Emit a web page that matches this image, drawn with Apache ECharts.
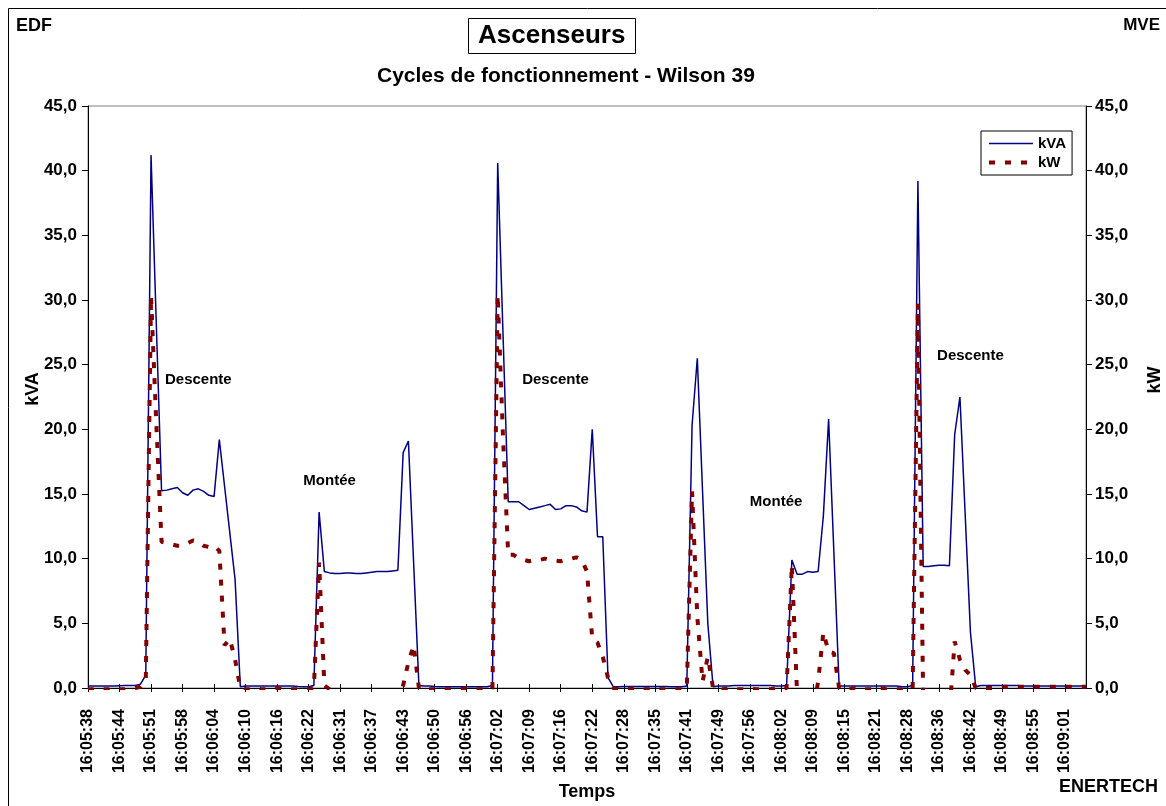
<!DOCTYPE html>
<html>
<head>
<meta charset="utf-8">
<script src="https://cdn.jsdelivr.net/npm/echarts@6.0.0/dist/echarts.min.js"></script>
<style>
  html, body { margin: 0; padding: 0; background: #fff; overflow: hidden; }
  #chart { width: 1166px; height: 806px; }
</style>
</head>
<body>
<div id="chart"></div>
<script>
// Time stamps shown under every 6th sample
const tickLabels = [
  '16:05:38', '16:05:44', '16:05:51', '16:05:58', '16:06:04', '16:06:10', '16:06:16', '16:06:22',
  '16:06:31', '16:06:37', '16:06:43', '16:06:50', '16:06:56', '16:07:02', '16:07:09', '16:07:16',
  '16:07:22', '16:07:28', '16:07:35', '16:07:41', '16:07:49', '16:07:56', '16:08:02', '16:08:09',
  '16:08:15', '16:08:21', '16:08:28', '16:08:36', '16:08:42', '16:08:49', '16:08:55', '16:09:01'
];

// Apparent power (kVA), one value per sample
const kva = [
  0.15, 0.15, 0.15, 0.15, 0.15, 0.15, 0.18, 0.2, 0.2, 0.2,
  0.3, 1.0, 41.2, 28.2, 15.25, 15.3, 15.4, 15.5, 15.1, 14.9,
  15.3, 15.4, 15.2, 14.9, 14.8, 19.2, 15.6, 12.0, 8.4, 0.1,
  0.15, 0.15, 0.15, 0.15, 0.15, 0.15, 0.15, 0.15, 0.15, 0.15,
  0.12, 0.1, 0.1, 0.2, 13.6, 9.0, 8.9, 8.85, 8.85, 8.9,
  8.9, 8.85, 8.85, 8.9, 8.95, 9.0, 9.0, 9.0, 9.05, 9.1,
  18.2, 19.1, 9.6, 0.2, 0.15, 0.15, 0.12, 0.1, 0.1, 0.1,
  0.1, 0.1, 0.1, 0.1, 0.1, 0.1, 0.1, 0.2, 40.6, 27.5,
  14.4, 14.4, 14.4, 14.1, 13.8, 13.9, 14.0, 14.1, 14.2, 13.8,
  13.85, 14.1, 14.1, 14.0, 13.7, 13.6, 20.0, 11.7, 11.7, 0.8,
  0.1, 0.1, 0.12, 0.12, 0.12, 0.12, 0.12, 0.12, 0.12, 0.12,
  0.12, 0.1, 0.1, 0.1, 0.15, 20.3, 25.5, 15.2, 5.0, 0.1,
  0.15, 0.15, 0.15, 0.2, 0.2, 0.2, 0.2, 0.2, 0.2, 0.2,
  0.2, 0.15, 0.15, 0.2, 9.9, 8.8, 8.8, 9.0, 8.95, 9.0,
  13.3, 20.8, 10.5, 0.15, 0.15, 0.15, 0.15, 0.15, 0.15, 0.15,
  0.15, 0.15, 0.15, 0.15, 0.15, 0.1, 0.1, 0.2, 39.2, 9.4,
  9.4, 9.45, 9.5, 9.5, 9.45, 19.6, 22.5, 13.4, 4.3, 0.1,
  0.2, 0.2, 0.2, 0.2, 0.2, 0.2, 0.2, 0.2, 0.15, 0.15,
  0.15, 0.15, 0.15, 0.15, 0.15, 0.15, 0.15, 0.15, 0.15, 0.15, 0.15
];

// Active power (kW), one value per sample
const kw = [
  -0.1, -0.1, 0.0, -0.1, -0.1, 0.0, -0.1, -0.1, 0.0, 0.0,
  0.1, 0.6, 30.3, 20.5, 11.3, 11.2, 11.1, 11.0, 11.0, 11.2,
  11.4, 11.3, 11.0, 10.9, 11.0, 10.6, 3.3, 3.8, 2.2, 0.0,
  -0.1, -0.1, 0.0, -0.1, -0.1, -0.1, 0.0, -0.1, -0.1, -0.1,
  -0.1, -0.1, -0.1, 0.0, 9.7, 0.2, -0.1, -0.4, -2.5, -2.5,
  -2.5, -2.5, -2.5, -2.5, -2.5, -2.5, -2.5, -2.5, -2.5, -1.2,
  0.2, 2.0, 3.3, 0.0, -0.1, -0.1, -0.1, 0.0, -0.1, -0.1,
  -0.1, -0.1, 0.0, -0.1, -0.1, -0.1, -0.1, 0.0, 30.4, 19.5,
  10.3, 10.3, 10.0, 9.9, 9.8, 9.9, 9.9, 10.0, 9.9, 9.85,
  9.8, 9.9, 10.0, 10.1, 9.9, 9.0, 3.8, 3.5, 2.4, 0.8,
  0.0, -0.1, -0.1, -0.1, 0.0, -0.1, -0.1, -0.1, 0.0, -0.1,
  -0.1, -0.1, -0.1, -0.1, 0.0, 15.2, 5.5, 0.5, 2.4, 0.0,
  -0.1, -0.1, 0.0, -0.1, -0.1, -0.1, 0.0, -0.1, -0.1, -0.1,
  -0.1, 0.0, -0.1, 0.0, 9.5, -0.5, -2.5, -2.5, -2.0, 0.5,
  4.3, 2.8, 2.7, 0.0, -0.1, -0.1, 0.0, -0.1, -0.1, -0.1,
  -0.1, 0.0, -0.1, -0.1, -0.1, -0.1, 0.0, 0.0, 29.7, -0.8,
  -2.5, -2.5, -2.5, -2.5, -2.0, 3.6, 2.2, 1.4, 1.0, 0.0,
  0.0, 0.0, 0.0, 0.0, 0.1, 0.1, 0.1, 0.1, 0.1, 0.1,
  0.1, 0.1, 0.1, 0.1, 0.1, 0.1, 0.1, 0.1, 0.1, 0.1, 0.1
];

// Phase names written inside the plot: text, sample index, kVA level
const phaseNames = ['Descente', 'Montée', 'Descente', 'Montée', 'Descente'];
const phaseAt = [21, 46, 89, 131, 168];
const phaseLevel = [23.8, 16.0, 23.8, 14.4, 25.7];

const samples = kva.map((_, i) => i);
const FONT = '"Liberation Sans", Arial, sans-serif';
const STEP = 6;
const fmtComma = v => v.toFixed(1).replace('.', ',');

const boldText = size => ({ fontFamily: FONT, fontWeight: 'bold', fontSize: size, color: '#000' });

const chart = echarts.init(document.getElementById('chart'), null, { renderer: 'canvas' });

chart.setOption({
  animation: false,
  backgroundColor: '#fff',
  title: [
    {
      text: 'Ascenseurs',
      left: 468, top: 18,
      padding: [5, 10, 5, 10],
      borderWidth: 1, borderColor: '#000',
      textStyle: boldText(26)
    },
    {
      text: 'Cycles de fonctionnement - Wilson 39',
      left: 377, top: 66,
      padding: 0,
      textStyle: boldText(21)
    }
  ],
  graphic: [
    { type: 'rect', silent: true, z: -10,
      shape: { x: 8.5, y: 8.5, width: 1180, height: 830 },
      style: { fill: 'none', stroke: '#000', lineWidth: 1 } },
    { type: 'text', left: 16, top: 17, style: { text: 'EDF', font: 'bold 18px ' + FONT, fill: '#000' } },
    { type: 'text', right: 6, top: 17, style: { text: 'MVE', font: 'bold 17px ' + FONT, fill: '#000' } },
    { type: 'text', right: 8, top: 778, style: { text: 'ENERTECH', font: 'bold 18px ' + FONT, fill: '#000' } },
    // vertical axis titles
    { type: 'text', x: 33, y: 389, rotation: Math.PI / 2,
      style: { text: 'kVA', font: 'bold 18px ' + FONT, fill: '#000', align: 'center', verticalAlign: 'middle' } },
    { type: 'text', x: 1155, y: 380, rotation: Math.PI / 2,
      style: { text: 'kW', font: 'bold 18px ' + FONT, fill: '#000', align: 'center', verticalAlign: 'middle' } }
  ],
  legend: {
    orient: 'vertical',
    left: 981, top: 131,
    padding: [5, 6, 5, 6],
    itemGap: 4,
    itemWidth: 44, itemHeight: 12,
    borderColor: '#000', borderWidth: 1,
    backgroundColor: '#fff',
    textStyle: boldText(15),
    data: [
      { name: 'kVA', itemStyle: { color: 'rgba(0,0,0,0)', borderWidth: 0 }, lineStyle: { width: 1.5 } },
      { name: 'kW', itemStyle: { color: 'rgba(0,0,0,0)', borderWidth: 0 }, lineStyle: { width: 4, type: [6, 10] } }
    ]
  },
  grid: {
    left: 88, right: 80, top: 106, bottom: 118,
    outerBoundsMode: 'none',
    containLabel: false,
    show: true, borderColor: '#808080', borderWidth: 1, backgroundColor: 'transparent'
  },
  xAxis: [
    {
      type: 'category',
      data: samples,
      boundaryGap: false,
      name: 'Temps',
      nameLocation: 'middle',
      nameGap: 95,
      nameTextStyle: boldText(18),
      axisLine: { lineStyle: { color: '#000', width: 1 } },
      axisTick: { interval: STEP - 1, length: 4, lineStyle: { color: '#000' } },
      axisLabel: {
        interval: STEP - 1,
        rotate: 90,
        margin: 21,
        formatter: (v, i) => (i % STEP === 0 ? tickLabels[i / STEP] : ''),
        ...boldText(16)
      },
      splitLine: { show: false }
    },
    {
      type: 'category',
      data: samples,
      boundaryGap: false,
      position: 'bottom',
      axisLine: { show: false },
      axisTick: { inside: true, interval: STEP - 1, length: 4, lineStyle: { color: '#000' } },
      axisLabel: { show: false },
      splitLine: { show: false }
    }
  ],
  yAxis: [
    {
      type: 'value', min: 0, max: 45, interval: 5, position: 'left',
      axisLine: { show: true, lineStyle: { color: '#000', width: 1 } },
      axisTick: { show: true, length: 6, lineStyle: { color: '#000' } },
      axisLabel: { formatter: fmtComma, margin: 11, ...boldText(17) },
      splitLine: { show: false }
    },
    {
      type: 'value', min: 0, max: 45, interval: 5, position: 'right',
      axisLine: { show: true, lineStyle: { color: '#000', width: 1 } },
      axisTick: { show: true, length: 6, lineStyle: { color: '#000' } },
      axisLabel: { formatter: fmtComma, margin: 9, ...boldText(17) },
      splitLine: { show: false }
    }
  ],
  series: [
    {
      name: 'kVA',
      type: 'line',
      data: kva,
      yAxisIndex: 0,
      symbol: 'none',
      clip: true,
      lineStyle: { color: '#000080', width: 1.5 },
      itemStyle: { color: '#000080' },
      markPoint: {
        symbol: 'rect',
        symbolSize: 1,
        itemStyle: { color: 'rgba(0,0,0,0)' },
        label: { show: true, position: 'inside', formatter: '{b}', ...boldText(15) },
        data: phaseNames.map((t, k) => ({ name: t, coord: [phaseAt[k], phaseLevel[k]] }))
      }
    },
    {
      name: 'kW',
      type: 'line',
      data: kw,
      yAxisIndex: 1,
      symbol: 'none',
      clip: true,
      lineStyle: { color: '#800000', width: 4, type: [6, 10], cap: 'butt' },
      itemStyle: { color: '#800000' }
    }
  ]
});
</script>
</body>
</html>
